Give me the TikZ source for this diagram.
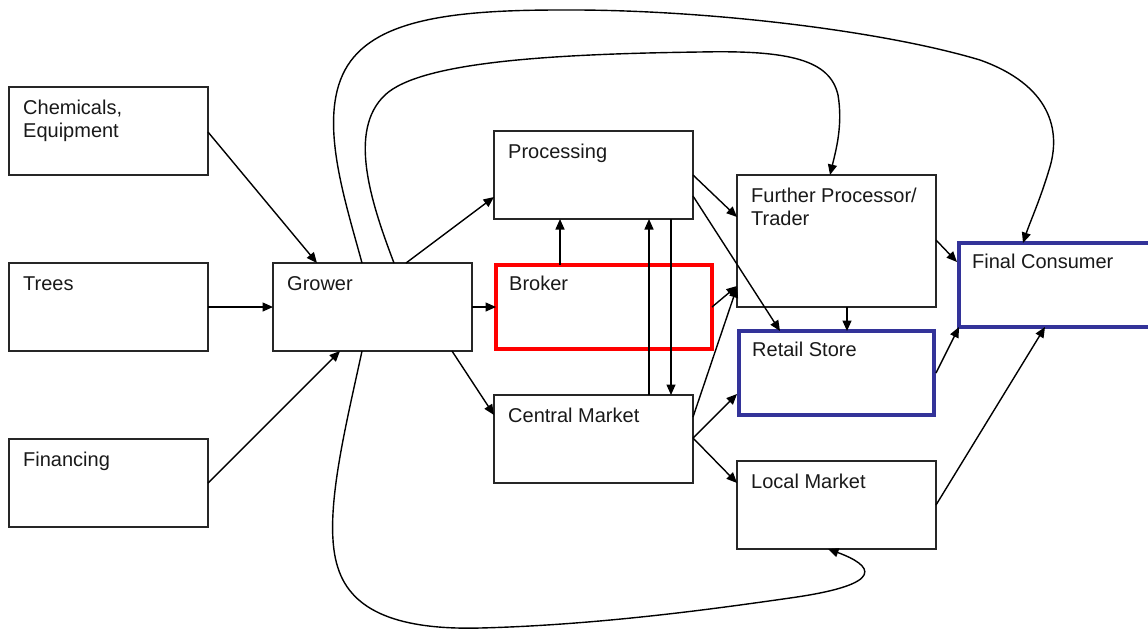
\documentclass[tikz,border=0pt]{standalone}
\usepackage{fontspec}
\setmainfont{Liberation Sans}
\usetikzlibrary{arrows.meta,calc}
\definecolor{boxblue}{RGB}{51,51,153}
\begin{document}
\begin{tikzpicture}[x=1pt,y=-1pt,
  box/.style={draw=black!85, line width=1.2pt, inner sep=0pt, outer sep=0pt, anchor=north west, rectangle},
  redbox/.style={box, draw=red, line width=3.8pt},
  bluebox/.style={box, draw=boxblue, line width=3.8pt},
  lbl/.style={anchor=base west, inner sep=0pt, font=\fontsize{20}{23}\selectfont, text=black!90},
  arr/.style={line width=1.4pt, -{Triangle[length=10.5pt,width=9pt]}}]
\useasboundingbox (0,0) rectangle (1148,630);
\clip (0,0) rectangle (1148,630);
% boxes
\node[box, minimum width=199pt, minimum height=88pt] (chem) at (9,87) {};
\node[box, minimum width=199pt, minimum height=88pt] (trees) at (9,263) {};
\node[box, minimum width=199pt, minimum height=88pt] (fin) at (9,439) {};
\node[box, minimum width=199pt, minimum height=88pt] (grower) at (273,263) {};
\node[box, minimum width=199pt, minimum height=88pt] (proc) at (494,131) {};
\node[redbox, minimum width=216pt, minimum height=84pt] (broker) at (496,265) {};
\node[box, minimum width=199pt, minimum height=88pt] (cm) at (494,395) {};
\node[box, minimum width=199pt, minimum height=132pt] (fp) at (737,175) {};
\node[bluebox, minimum width=195pt, minimum height=84pt] (retail) at (739,331) {};
\node[box, minimum width=199pt, minimum height=88pt] (lm) at (737,461) {};
\node[bluebox, minimum width=220pt, minimum height=84pt] (fc) at (959,243) {};
% labels
\node[lbl] (tchem) at ($(chem.north west)+(14,27)$) {\begin{tabular}[t]{@{}l@{}}Chemicals,\\Equipment\end{tabular}};
\node[lbl] (ttrees) at ($(trees.north west)+(14,27)$) {Trees};
\node[lbl] (tfin) at ($(fin.north west)+(14,27)$) {Financing};
\node[lbl] (tgrower) at ($(grower.north west)+(14,27)$) {Grower};
\node[lbl] (tproc) at ($(proc.north west)+(14,27)$) {Processing};
\node[lbl] (tbroker) at ($(broker.north west)+(13,25)$) {Broker};
\node[lbl] (tcm) at ($(cm.north west)+(14,27)$) {Central Market};
\node[lbl] (tfp) at ($(fp.north west)+(14,27)$) {\begin{tabular}[t]{@{}l@{}}Further Processor/\\Trader\end{tabular}};
\node[lbl] (tretail) at ($(retail.north west)+(13,25)$) {Retail Store};
\node[lbl] (tlm) at ($(lm.north west)+(14,27)$) {Local Market};
\node[lbl] (tfc) at ($(fc.north west)+(13,25)$) {Final Consumer};
% straight arrows
\draw[arr] ($(chem.north east)+(0,45)$) -- ($(grower.north west)+(44,0)$);
\draw[arr] (trees.east) -- (grower.west);
\draw[arr] ($(fin.north east)+(0,44)$) -- ($(grower.south west)+(67,0)$);
\draw[arr] ($(grower.north west)+(133,0)$) -- ($(proc.north west)+(0,66)$);
\draw[arr] (grower.east) -- (broker.west);
\draw[arr] ($(grower.south east)+(-20,0)$) -- ($(cm.north west)+(0,20)$);
\draw[arr] ($(broker.north west)+(64,0)$) -- ($(proc.south west)+(66,0)$);
\draw[arr] ($(cm.north west)+(155,0)$) -- ($(proc.south west)+(155,0)$);
\draw[arr] ($(proc.south west)+(177,0)$) -- ($(cm.north west)+(177,0)$);
\draw[arr] (proc.east) -- ($(fp.north west)+(0,42)$);
\draw[arr] ($(proc.north east)+(0,65)$) -- ($(retail.north west)+(41,0)$);
\draw[arr] (broker.east) -- ($(fp.north west)+(0,111)$);
\draw[arr] ($(cm.north east)+(0,22)$) -- ($(fp.north west)+(0,112)$);
\draw[arr] ($(cm.north east)+(0,43)$) -- ($(retail.north west)+(-2,63)$);
\draw[arr] ($(cm.north east)+(0,43)$) -- ($(lm.north west)+(0,22)$);
\draw[arr] ($(fp.south west)+(110,0)$) -- ($(retail.north west)+(108,0)$);
\draw[arr] ($(fp.north east)+(0,65)$) -- ($(fc.north west)+(-2,19)$);
\draw[arr] ($(retail.north east)+(2,42)$) -- (fc.south west);
\draw[arr] (lm.east) -- ($(fc.south west)+(86,0)$);
% curves
\draw[arr] ($(grower.north west)+(89,0)$) .. controls (345,200) and (318,120) .. (345,70)
  .. controls (372,20) and (450,10) .. (560,10)
  .. controls (700,9) and (880,30) .. (980,60)
  .. controls (1050,85) and (1062,130) .. (1049,170)
  .. controls (1040,200) and (1030,222) .. ($(fc.north west)+(64,0)$);
\draw[arr] ($(grower.north west)+(121,0)$) .. controls (370,200) and (348,130) .. (385,95)
  .. controls (420,62) and (550,54) .. (700,52)
  .. controls (790,50) and (830,60) .. (838,95)
  .. controls (843,125) and (836,150) .. ($(fp.north west)+(93,0)$);
\draw[arr] ($(grower.south west)+(89,0)$) .. controls (345,430) and (322,520) .. (338,568)
  .. controls (352,612) and (400,630) .. (480,628)
  .. controls (600,625) and (720,608) .. (790,598)
  .. controls (890,584) and (872,565) .. ($(lm.south west)+(91,0)$);
\end{tikzpicture}
\end{document}
